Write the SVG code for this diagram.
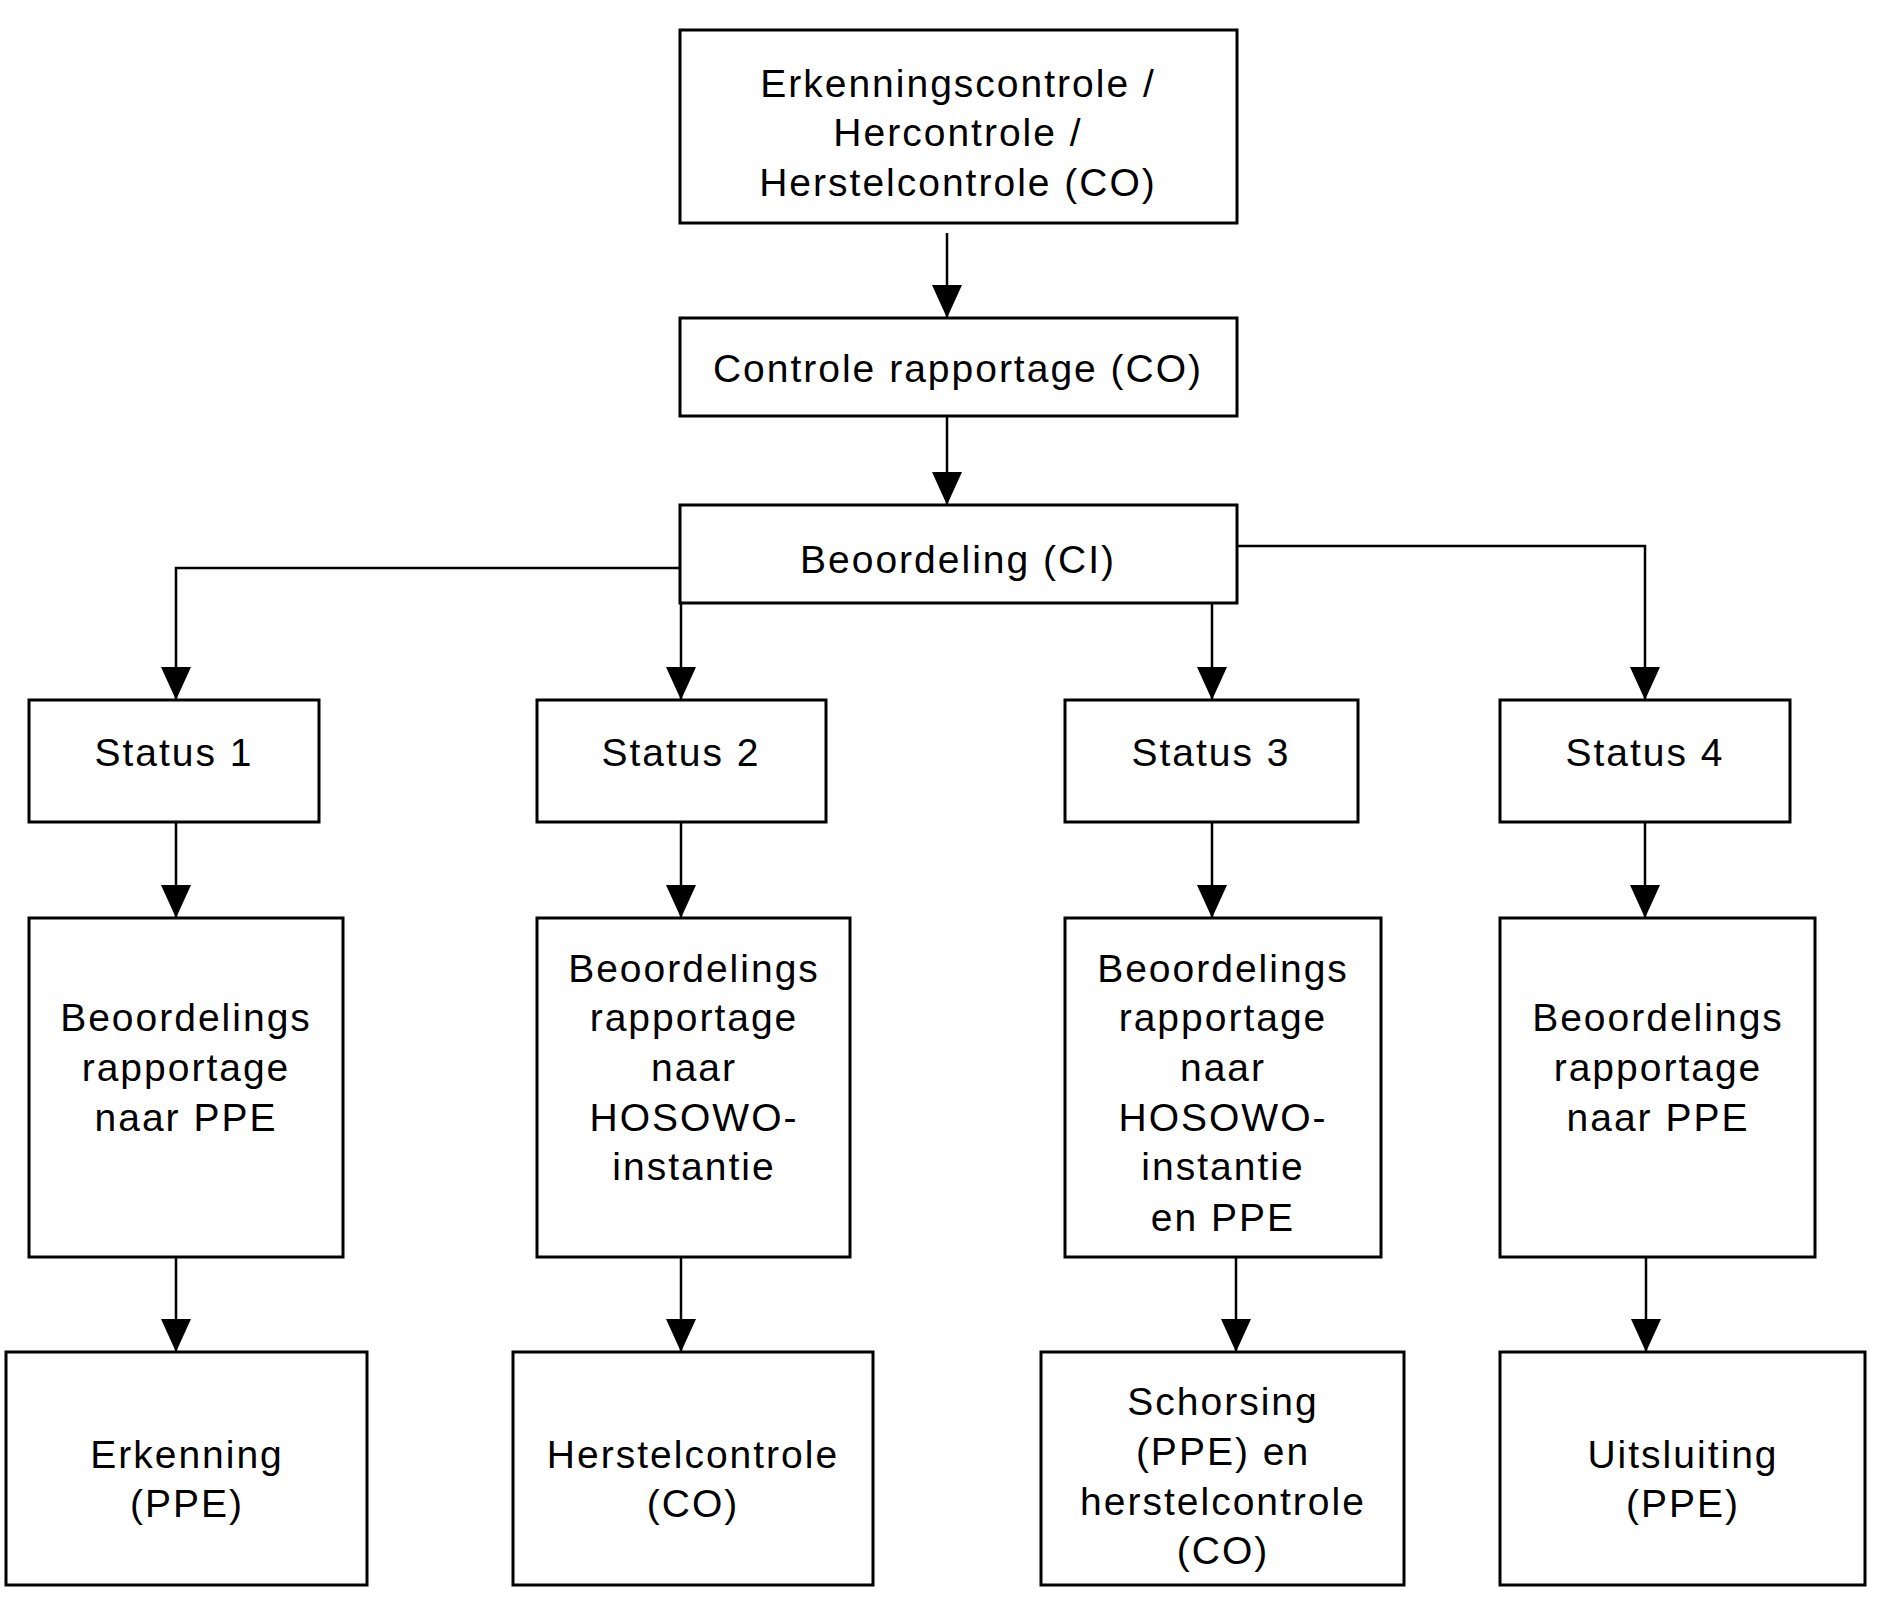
<svg xmlns="http://www.w3.org/2000/svg" width="1890" height="1614" viewBox="0 0 1890 1614">
<defs>
<style>
.box{fill:#fff;stroke:#000;stroke-width:3}
.t{font-family:"Liberation Sans",Arial,sans-serif;font-size:39px;letter-spacing:2px;fill:#000;text-anchor:middle}
.c{fill:none;stroke:#000;stroke-width:2.5}
</style>
<marker id="ah" markerUnits="userSpaceOnUse" markerWidth="33" markerHeight="30" refX="33" refY="15" orient="auto" viewBox="0 0 33 30">
<path d="M0,0 L33,15 L0,30 z" fill="#000"/>
</marker>
</defs>
<rect width="1890" height="1614" fill="#fff"/>
<g id="connectors">
<path class="c" d="M947,233 L947,318" marker-end="url(#ah)"/>
<path class="c" d="M947,416 L947,505" marker-end="url(#ah)"/>
<path class="c" d="M680,568 L176,568 L176,700" marker-end="url(#ah)"/>
<path class="c" d="M681,603 L681,700" marker-end="url(#ah)"/>
<path class="c" d="M1212,603 L1212,700" marker-end="url(#ah)"/>
<path class="c" d="M1237,546 L1645,546 L1645,700" marker-end="url(#ah)"/>
<path class="c" d="M176,822 L176,918" marker-end="url(#ah)"/>
<path class="c" d="M681,822 L681,918" marker-end="url(#ah)"/>
<path class="c" d="M1212,822 L1212,918" marker-end="url(#ah)"/>
<path class="c" d="M1645,822 L1645,918" marker-end="url(#ah)"/>
<path class="c" d="M176,1257 L176,1352" marker-end="url(#ah)"/>
<path class="c" d="M681,1257 L681,1352" marker-end="url(#ah)"/>
<path class="c" d="M1236,1257 L1236,1352" marker-end="url(#ah)"/>
<path class="c" d="M1646,1257 L1646,1352" marker-end="url(#ah)"/>
</g>
<g id="n-top">
<rect class="box" x="680" y="30" width="557" height="193"/>
<text class="t" x="958" y="97">Erkenningscontrole /</text>
<text class="t" x="958" y="146">Hercontrole /</text>
<text class="t" x="958" y="196">Herstelcontrole (CO)</text>
</g>
<g id="n-rapportage">
<rect class="box" x="680" y="318" width="557" height="98"/>
<text class="t" x="958" y="382">Controle rapportage (CO)</text>
</g>
<g id="n-beoordeling">
<rect class="box" x="680" y="505" width="557" height="98"/>
<text class="t" x="958" y="573">Beoordeling (CI)</text>
</g>
<g id="n-status1">
<rect class="box" x="29" y="700" width="290" height="122"/>
<text class="t" x="174" y="766">Status 1</text>
</g>
<g id="n-status2">
<rect class="box" x="537" y="700" width="289" height="122"/>
<text class="t" x="681" y="766">Status 2</text>
</g>
<g id="n-status3">
<rect class="box" x="1065" y="700" width="293" height="122"/>
<text class="t" x="1211" y="766">Status 3</text>
</g>
<g id="n-status4">
<rect class="box" x="1500" y="700" width="290" height="122"/>
<text class="t" x="1645" y="766">Status 4</text>
</g>
<g id="n-report1">
<rect class="box" x="29" y="918" width="314" height="339"/>
<text class="t" x="186" y="1031">Beoordelings</text>
<text class="t" x="186" y="1081">rapportage</text>
<text class="t" x="186" y="1131">naar PPE</text>
</g>
<g id="n-report2">
<rect class="box" x="537" y="918" width="313" height="339"/>
<text class="t" x="694" y="982">Beoordelings</text>
<text class="t" x="694" y="1031">rapportage</text>
<text class="t" x="694" y="1081">naar</text>
<text class="t" x="694" y="1131">HOSOWO-</text>
<text class="t" x="694" y="1180">instantie</text>
</g>
<g id="n-report3">
<rect class="box" x="1065" y="918" width="316" height="339"/>
<text class="t" x="1223" y="982">Beoordelings</text>
<text class="t" x="1223" y="1031">rapportage</text>
<text class="t" x="1223" y="1081">naar</text>
<text class="t" x="1223" y="1131">HOSOWO-</text>
<text class="t" x="1223" y="1180">instantie</text>
<text class="t" x="1223" y="1231">en PPE</text>
</g>
<g id="n-report4">
<rect class="box" x="1500" y="918" width="315" height="339"/>
<text class="t" x="1658" y="1031">Beoordelings</text>
<text class="t" x="1658" y="1081">rapportage</text>
<text class="t" x="1658" y="1131">naar PPE</text>
</g>
<g id="n-erkenning">
<rect class="box" x="6" y="1352" width="361" height="233"/>
<text class="t" x="187" y="1468">Erkenning</text>
<text class="t" x="187" y="1517">(PPE)</text>
</g>
<g id="n-herstelcontrole">
<rect class="box" x="513" y="1352" width="360" height="233"/>
<text class="t" x="693" y="1468">Herstelcontrole</text>
<text class="t" x="693" y="1517">(CO)</text>
</g>
<g id="n-schorsing">
<rect class="box" x="1041" y="1352" width="363" height="233"/>
<text class="t" x="1223" y="1415">Schorsing</text>
<text class="t" x="1223" y="1465">(PPE) en</text>
<text class="t" x="1223" y="1515">herstelcontrole</text>
<text class="t" x="1223" y="1564">(CO)</text>
</g>
<g id="n-uitsluiting">
<rect class="box" x="1500" y="1352" width="365" height="233"/>
<text class="t" x="1683" y="1468">Uitsluiting</text>
<text class="t" x="1683" y="1517">(PPE)</text>
</g>
</svg>
